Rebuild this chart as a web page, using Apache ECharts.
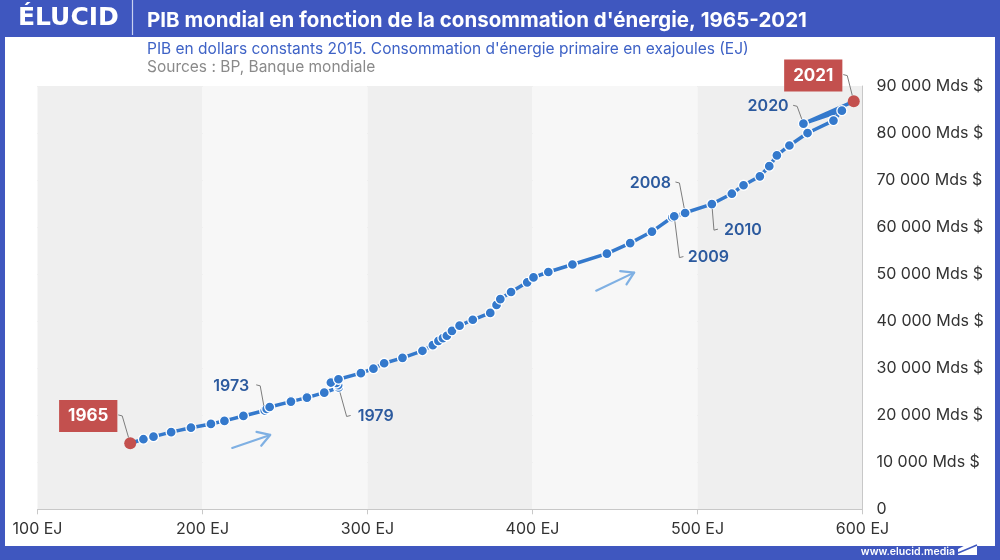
<!DOCTYPE html>
<html><head><meta charset="utf-8">
<script src="https://cdn.jsdelivr.net/npm/echarts@6/dist/echarts.min.js"></script>
<style>
html,body{margin:0;padding:0;background:#3f57bf;}
#wrap{position:relative;width:1000px;height:560px;background:#3f57bf;overflow:hidden;}
#panel{position:absolute;left:5px;top:37px;width:990px;height:509px;background:#fff;}
#chart{position:absolute;left:0;top:0;width:1000px;height:560px;}
</style></head><body>
<div id="wrap"><div id="panel"></div><div id="chart"></div></div>
<script>
// ---- data ----
const years = [1965,1966,1967,1968,1969,1970,1971,1972,1973,1974,
  1975,1976,1977,1978,1979,1980,1981,1982,1983,1984,
  1985,1986,1987,1988,1989,1990,1991,1992,1993,1994,
  1995,1996,1997,1998,1999,2000,2001,2002,2003,2004,
  2005,2006,2007,2008,2009,2010,2011,2012,2013,2014,
  2015,2016,2017,2018,2019,2020,2021];
const energyEJ = [156.2,164.2,170.3,181.0,193.0,205.1,213.3,224.8,237.7,238.9,
  240.7,253.6,263.3,273.8,282.5,282.2,281.0,277.8,282.4,296.0,
  303.6,310.1,321.2,333.3,339.6,343.0,345.7,348.1,351.2,355.8,
  363.8,374.4,378.2,380.5,387.0,396.8,400.6,409.6,424.2,445.1,
  459.2,472.4,484.7,492.5,485.9,508.7,520.8,527.9,537.8,543.5,
  548.1,555.7,566.7,582.4,587.5,564.2,594.7];
const gdpMds = [14050,14900,15450,16400,17350,18150,18800,19850,21000,21350,
  21750,22900,23750,24800,25900,26400,26850,26950,27650,28950,
  29900,31050,32200,33700,34900,35800,36400,36900,37950,39050,
  40300,41750,43450,44700,46200,48250,49300,50450,52050,54350,
  56600,59050,62100,63000,62300,64900,67100,68900,70800,72950,
  75250,77350,80000,82650,84750,82000,86750];
const xTickValues = [100,200,300,400,500,600];
const xTickLabels = ['100 EJ','200 EJ','300 EJ','400 EJ','500 EJ','600 EJ'];
const yTickValues = [0,10000,20000,30000,40000,50000,60000,70000,80000,90000];
const yTickLabels = ['0','10 000 Mds $','20 000 Mds $','30 000 Mds $','40 000 Mds $','50 000 Mds $','60 000 Mds $','70 000 Mds $','80 000 Mds $','90 000 Mds $'];
const highlightYears = [1965,2021];
const annYears = [1965,1973,1979,2008,2009,2010,2020,2021];
// arrows (data units): start and end
const arrowStart = [[218.0,13050],[438.6,46490]];
const arrowEnd = [[241.0,15810],[461.6,50320]];

// ---- annotation layout (pixel offsets of label centres from their point) ----
const annLayout = [
  {dx:-42, dy:-27.3, side:'r', boxed:true},
  {dx:-33.5, dy:-24.7, side:'r'},
  {dx:37, dy:29, side:'l'},
  {dx:-34.7, dy:-30, side:'r'},
  {dx:34.2, dy:41.3, side:'l'},
  {dx:31.1, dy:26.1, side:'l'},
  {dx:-35.3, dy:-17.3, side:'r'},
  {dx:-40.5, dy:-25.7, side:'r', boxed:true}
];

const BLUE = '#3479cc', RED = '#c3504e', LABEL = '#2c5a9e';
const FONT = 'Inter, "Open Sans", sans-serif';

function renderAnn(params, api) {
  const k = params.dataIndex;
  const year = annYears[k];
  const i = years.indexOf(year);
  const p = api.coord([energyEJ[i], gdpMds[i]]);
  const L = annLayout[k];
  const cx = p[0] + L.dx, cy = p[1] + L.dy;
  const hw = L.boxed ? 30 : 20;
  const sg = L.side === 'r' ? 1 : -1;
  const sx = cx + sg * (hw + (L.boxed ? 0 : 5));
  const sy = cy - 1;
  const ex = sx + sg * 4, ey = sy + 1;
  const vx = p[0] - ex, vy = p[1] - ey, d = Math.hypot(vx, vy);
  const r = L.boxed ? 6 : 5;
  const tx = p[0] - vx / d * r, ty = p[1] - vy / d * r;
  const textStyle = L.boxed ? {
    x: cx, y: cy, text: String(year), align: 'center', verticalAlign: 'middle',
    fill: '#fff', font: 'bold 17px ' + FONT, backgroundColor: RED,
    padding: [7, 9, 7, 9], lineHeight: 18
  } : {
    x: cx, y: cy, text: String(year), align: 'center', verticalAlign: 'middle',
    fill: LABEL, font: '600 16px ' + FONT
  };
  return {
    type: 'group',
    children: [
      {type: 'polyline', shape: {points: [[sx, sy], [ex, ey], [tx, ty]]},
       style: {stroke: '#7d7d7d', lineWidth: 1, fill: null}},
      {type: 'text', style: textStyle}
    ]
  };
}

function renderArrow(params, api) {
  const p0 = api.coord([api.value(0), api.value(1)]);
  const p1 = api.coord([api.value(2), api.value(3)]);
  const a = Math.atan2(p1[1] - p0[1], p1[0] - p0[0]);
  const len = 14, sp = 0.55;
  const h1 = [p1[0] - len * Math.cos(a - sp), p1[1] - len * Math.sin(a - sp)];
  const h2 = [p1[0] - len * Math.cos(a + sp), p1[1] - len * Math.sin(a + sp)];
  const st = {stroke: '#7fb0e3', lineWidth: 2.2, fill: null, lineCap: 'round', lineJoin: 'round'};
  return {type: 'group', children: [
    {type: 'line', shape: {x1: p0[0], y1: p0[1], x2: p1[0], y2: p1[1]}, style: st},
    {type: 'polyline', shape: {points: [h1, p1, h2]}, style: st}
  ]};
}

const chart = echarts.init(document.getElementById('chart'), null, {renderer: 'canvas'});
const option = {
  animation: false,
  backgroundColor: 'transparent',
  textStyle: {fontFamily: FONT},
  grid: {left: 37.5, right: 137.5, top: 86, bottom: 50.7, containLabel: false},
  xAxis: {
    type: 'value', min: 100, max: 600, interval: 100,
    axisLine: {show: true, lineStyle: {color: '#c8c8c8', width: 1}},
    axisTick: {show: true, length: 5, lineStyle: {color: '#c8c8c8'}},
    axisLabel: {color: '#333', fontSize: 16, margin: 12, fontFamily: FONT,
      formatter: v => xTickLabels[xTickValues.indexOf(v)]},
    splitLine: {show: false},
    splitArea: {show: true, areaStyle: {color: ['#efefef', '#f7f7f7']}}
  },
  yAxis: {
    type: 'value', position: 'right', min: 0, max: 90000, interval: 10000,
    axisLine: {show: true, lineStyle: {color: '#c8c8c8', width: 1}},
    axisTick: {show: false},
    axisLabel: {color: '#333', fontSize: 16, margin: 14, fontFamily: FONT,
      formatter: v => yTickLabels[yTickValues.indexOf(v)]},
    splitLine: {show: true, lineStyle: {color: '#e2e2e2', width: 1}},
    splitArea: {show: false}
  },
  graphic: [
    {type: 'text', left: 18, top: 6, style: {text: 'ÉLUCID', fill: '#fff', font: 'bold 25px "DejaVu Sans", sans-serif'}},
    {type: 'line', shape: {x1: 132.5, y1: 0, x2: 132.5, y2: 35}, style: {stroke: '#c9d1f0', lineWidth: 1.2}},
    {type: 'text', x: 147, y: 20.5, style: {text: "PIB mondial en fonction de la consommation d'énergie, 1965-2021", fill: '#fff', font: 'bold 20.5px ' + FONT, verticalAlign: 'middle'}},
    {type: 'text', x: 147, y: 49.5, style: {text: "PIB en dollars constants 2015. Consommation d'énergie primaire en exajoules (EJ)", fill: '#3e62c6', font: '15.5px ' + FONT, verticalAlign: 'middle'}},
    {type: 'text', x: 147, y: 67, style: {text: 'Sources : BP, Banque mondiale', fill: '#8a8a8a', font: '15.5px ' + FONT, verticalAlign: 'middle'}},
    {type: 'text', x: 955, y: 551.5, style: {text: 'www.elucid.media', fill: '#fff', font: '600 10.5px ' + FONT, align: 'right', verticalAlign: 'middle'}},
    {type: 'polygon', shape: {points: [[958, 549], [977, 539], [977, 555], [958, 555]]}, style: {fill: '#fff'}},
    {type: 'line', shape: {x1: 958, y1: 553, x2: 977, y2: 545}, style: {stroke: '#3f57bf', lineWidth: 1.5}}
  ],
  series: [
    {
      type: 'line', z: 2,
      data: years.map((y, i) => {
        const hl = highlightYears.indexOf(y) >= 0;
        return hl ? {value: [energyEJ[i], gdpMds[i]], symbolSize: 12, itemStyle: {color: RED, borderColor: RED, borderWidth: 0}}
                  : {value: [energyEJ[i], gdpMds[i]]};
      }),
      symbol: 'circle', symbolSize: 10, showSymbol: true, showAllSymbol: true,
      lineStyle: {color: BLUE, width: 3.5},
      itemStyle: {color: BLUE, borderColor: '#fff', borderWidth: 1.3},
      label: {show: false}, emphasis: {disabled: true}
    },
    {
      type: 'custom', z: 3, silent: true,
      renderItem: renderArrow,
      data: arrowStart.map((s, k) => [s[0], s[1], arrowEnd[k][0], arrowEnd[k][1]]),
      encode: {x: [0, 2], y: [1, 3]}
    },
    {
      type: 'custom', z: 4, silent: true,
      renderItem: renderAnn,
      data: annYears.map(y => { const i = years.indexOf(y); return [energyEJ[i], gdpMds[i]]; }),
      encode: {x: 0, y: 1}
    }
  ]
};
chart.setOption(option);
</script>
</body></html>
